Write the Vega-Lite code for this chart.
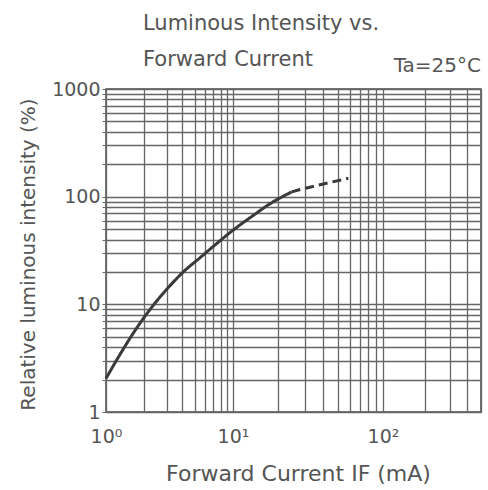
{
  "$schema": "https://vega.github.io/schema/vega-lite/v6.json",
  "autosize": "none",
  "width": 375,
  "height": 323,
  "padding": {"left": 106, "top": 89, "right": 7, "bottom": 78},
  "background": "white",
  "config": {
    "font": "DejaVu Sans",
    "view": {"stroke": "#4a4a4a", "strokeWidth": 1.5}
  },
  "title": {
    "text": ["Luminous Intensity vs.", "Forward Current"],
    "anchor": "start",
    "frame": "group",
    "dx": 37,
    "dy": 36,
    "offset": 22,
    "fontSize": 21,
    "fontWeight": "normal",
    "color": "#555555",
    "lineHeight": 36
  },
  "datasets": {
    "curve": [
      {"current": 1, "intensity": 2.05, "segment": "solid"},
      {"current": 1.29, "intensity": 3.43, "segment": "solid"},
      {"current": 1.64, "intensity": 5.4, "segment": "solid"},
      {"current": 2.03, "intensity": 7.77, "segment": "solid"},
      {"current": 2.51, "intensity": 10.75, "segment": "solid"},
      {"current": 3.19, "intensity": 14.9, "segment": "solid"},
      {"current": 4.06, "intensity": 20.0, "segment": "solid"},
      {"current": 5.5, "intensity": 27.1, "segment": "solid"},
      {"current": 7.44, "intensity": 36.7, "segment": "solid"},
      {"current": 10, "intensity": 48.8, "segment": "solid"},
      {"current": 13.7, "intensity": 67.2, "segment": "solid"},
      {"current": 17.6, "intensity": 85.7, "segment": "solid"},
      {"current": 24.6, "intensity": 110.6, "segment": "solid"},
      {"current": 24.6, "intensity": 110.6, "segment": "dashed"},
      {"current": 28, "intensity": 116.4, "segment": "dashed"},
      {"current": 38, "intensity": 129, "segment": "dashed"},
      {"current": 58.7, "intensity": 148, "segment": "dashed"}
    ],
    "note": [{"x": 500, "y": 1000, "text": "Ta=25°C"}]
  },
  "layer": [
    {
      "data": {"name": "curve"},
      "mark": {"type": "line", "interpolate": "monotone", "color": "#3a3a3a", "strokeWidth": 3},
      "encoding": {
        "x": {
          "field": "current",
          "type": "quantitative",
          "scale": {"type": "log", "domain": [1, 10, 100, 500], "range": [0, 127, 277, 375], "nice": false, "zero": false},
          "axis": {
            "values": [1,2,3,4,5,6,7,8,9,10,20,30,40,50,60,70,80,90,100,200,300,400,500],
            "labelExpr": "datum.value == 1 ? '10⁰' : datum.value == 10 ? '10¹' : datum.value == 100 ? '10²' : ''",
            "labelOverlap": false,
            "labelFlush": false,
            "labelBound": false,
            "labelFontSize": 19,
            "labelColor": "#555555",
            "labelPadding": 15,
            "ticks": false,
            "tickSize": 0,
            "domain": false,
            "grid": true,
            "gridColor": "#666666",
            "gridWidth": 1.3,
            "gridOpacity": 1,
            "title": "Forward Current  IF (mA)",
            "titleFontSize": 22,
            "titleFontWeight": "normal",
            "titleColor": "#555555",
            "titleX": 192,
            "titleY": 61,
            "titleAlign": "center",
            "titleBaseline": "middle"
          }
        },
        "y": {
          "field": "intensity",
          "type": "quantitative",
          "scale": {"type": "log", "domain": [1, 1000], "nice": false, "zero": false},
          "axis": {
            "values": [1,2,3,4,5,6,7,8,9,10,20,30,40,50,60,70,80,90,100,200,300,400,500,600,700,800,900,1000],
            "labelExpr": "datum.value == 1 || datum.value == 10 || datum.value == 100 || datum.value == 1000 ? format(datum.value, 'd') : ''",
            "labelOverlap": false,
            "labelFlush": false,
            "labelBound": false,
            "labelFontSize": 19,
            "labelColor": "#555555",
            "labelPadding": 2,
            "ticks": true,
            "tickSize": 4,
            "tickColor": "#666666",
            "domain": false,
            "grid": true,
            "gridColor": "#666666",
            "gridWidth": 1.3,
            "gridOpacity": 1,
            "title": "Relative luminous intensity (%)",
            "titleFontSize": 20,
            "titleFontWeight": "normal",
            "titleColor": "#555555",
            "titleX": -78,
            "titleY": 165,
            "titleAngle": 270,
            "titleAlign": "center",
            "titleBaseline": "middle"
          }
        },
        "strokeDash": {
          "field": "segment",
          "type": "nominal",
          "scale": {"domain": ["solid", "dashed"], "range": [[1, 0], [9, 5]]},
          "legend": null
        }
      }
    },
    {
      "data": {"name": "note"},
      "mark": {"type": "text", "align": "right", "baseline": "alphabetic", "dy": -17, "fontSize": 20, "color": "#555555"},
      "encoding": {
        "x": {"field": "x", "type": "quantitative"},
        "y": {"field": "y", "type": "quantitative"},
        "text": {"field": "text"}
      }
    }
  ]
}
